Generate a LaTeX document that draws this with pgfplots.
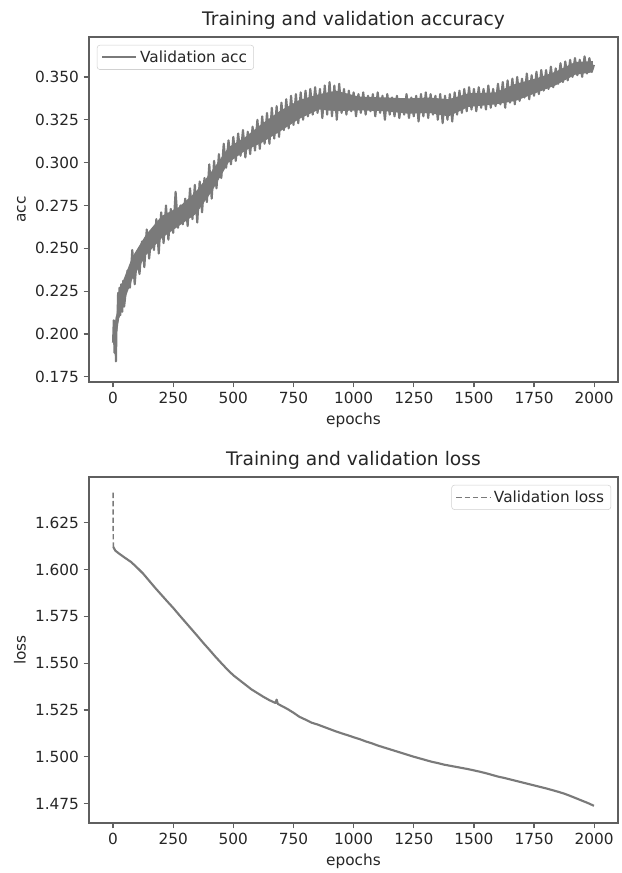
\documentclass[border=0pt]{standalone}
\usepackage{pgfplots}
\pgfplotsset{compat=1.18}
\usepackage{fontspec}
\setmainfont{DejaVu Sans}

\definecolor{curve}{RGB}{122,122,122}
\definecolor{spine}{RGB}{95,95,95}

\pgfplotsset{
  mpl/.style={
    scale only axis,
    width=396.75pt,
    xmin=-100, xmax=2099,
    xtick={0,250,500,750,1000,1250,1500,1750,2000},
    xtick pos=bottom, ytick pos=left,
    tick align=outside,
    major tick length=4pt,
    axis line style={spine, line width=0.9pt},
    tick style={spine, line width=0.9pt},
    tick label style={font=\fontsize{11.5}{13}\selectfont, text=black!85},
    /pgf/number format/assume math mode=true,
    /pgf/number format/1000 sep={},
    scaled y ticks=false,
    yticklabel style={/pgf/number format/.cd, fixed, fixed zerofill, precision=3},
    label style={font=\fontsize{11.5}{13}\selectfont, text=black!85},
    title style={font=\fontsize{14}{16}\selectfont, text=black!85, yshift=-4pt},
    xlabel={epochs},
    legend cell align=left,
    legend style={font=\fontsize{11.5}{13}\selectfont, text=black!85,
      draw=black!18, rounded corners=2pt, inner xsep=3pt, inner ysep=2pt},
    legend image code/.code={\draw[mark repeat=2,mark phase=2]
      plot coordinates {(0cm,0cm) (0.45cm,0cm) (0.9cm,0cm)};},
  },
}

\begin{document}
\begin{tikzpicture}
\path[use as bounding box] (-66.75pt,27.75pt) rectangle (399pt,-627pt);

% accuracy
\begin{axis}[
  mpl,
  at={(0,0)}, anchor=north west,
  height=258.75pt,
  ymin=0.172, ymax=0.3733,
  ytick={0.175,0.2,0.225,0.25,0.275,0.3,0.325,0.35},
  ylabel={acc},
  title={Training and validation accuracy},
  legend style={at={(0.015,0.977)}, anchor=north west},
]
% dense core of the noisy band (upper edge forward, lower edge back)
\addplot[fill=curve, draw=none, forget plot] coordinates {
(5,0.205) (15,0.212) (30,0.227) (80,0.245) (137,0.258) (203,0.269) (273,0.274)
(344,0.283) (410,0.295) (480,0.309) (550,0.315) (617,0.3225) (692,0.330) (774,0.3365)
(857,0.340) (927,0.342) (1023,0.3385) (1134,0.338) (1230,0.3375) (1313,0.338)
(1395,0.337) (1478,0.3405) (1590,0.341) (1673,0.346) (1756,0.349) (1838,0.353)
(1921,0.3587) (1995,0.3593)
(1995,0.3527) (1921,0.3513) (1838,0.345) (1756,0.3405) (1673,0.336) (1590,0.334)
(1478,0.3325) (1395,0.327) (1313,0.329) (1230,0.3285) (1134,0.330) (1023,0.3305)
(927,0.330) (857,0.331) (774,0.3255) (692,0.318) (617,0.3115) (550,0.307) (480,0.300)
(410,0.283) (344,0.270) (273,0.263) (203,0.256) (137,0.246) (80,0.232) (30,0.213)
(15,0.200) (5,0.190)
};
\addplot[curve, line width=1.6pt, line join=round] coordinates {
(0,0.195) (3,0.208) (6,0.189) (9,0.204) (12,0.184) (15,0.210) (18,0.207)
(21,0.224) (24,0.210) (27,0.227) (30,0.211) (34,0.229) (38,0.213) (42,0.231) (46,0.216)
(50,0.221) (60,0.237) (70,0.227) (80,0.249) (90,0.229) (100,0.246) (110,0.235)
(120,0.254) (130,0.239) (140,0.261) (150,0.244) (160,0.259) (170,0.249) (180,0.267)
(190,0.247) (200,0.271) (210,0.253) (220,0.275) (230,0.255) (240,0.273) (250,0.259)
(260,0.283) (270,0.262) (280,0.275) (290,0.264) (300,0.279) (310,0.263) (320,0.285)
(330,0.267) (340,0.287) (350,0.265) (360,0.289) (370,0.271) (380,0.291) (390,0.277)
(400,0.299) (410,0.279) (420,0.301) (430,0.285) (440,0.305) (450,0.291) (460,0.311)
(470,0.297) (480,0.313) (490,0.299) (500,0.315) (510,0.301) (520,0.317) (530,0.304)
(540,0.319) (550,0.303) (560,0.318) (570,0.305) (580,0.321) (590,0.307) (600,0.325)
(610,0.308) (620,0.327) (630,0.311) (640,0.329) (650,0.311) (660,0.332) (670,0.314)
(680,0.333) (690,0.315) (700,0.335) (710,0.319) (720,0.337) (730,0.320) (740,0.339)
(750,0.322) (760,0.340) (770,0.323) (780,0.341) (790,0.325) (800,0.342) (810,0.327)
(820,0.343) (830,0.328) (840,0.344) (850,0.329) (860,0.343) (870,0.326) (880,0.345)
(890,0.328) (900,0.347) (910,0.327) (920,0.345) (930,0.325) (940,0.346) (950,0.329)
(960,0.343) (970,0.328) (980,0.342) (990,0.330) (1000,0.341) (1010,0.327) (1020,0.340)
(1030,0.329) (1040,0.341) (1050,0.328) (1060,0.339) (1070,0.330) (1080,0.340) (1090,0.327)
(1100,0.341) (1110,0.329) (1120,0.339) (1130,0.325) (1140,0.340) (1150,0.328) (1160,0.338)
(1170,0.327) (1180,0.339) (1190,0.326) (1200,0.337) (1210,0.328) (1220,0.340) (1230,0.326)
(1240,0.338) (1250,0.327) (1260,0.339) (1270,0.324) (1280,0.340) (1290,0.327) (1300,0.341)
(1310,0.326) (1320,0.340) (1330,0.328) (1340,0.339) (1350,0.325) (1360,0.340) (1370,0.323)
(1380,0.339) (1390,0.325) (1400,0.340) (1410,0.324) (1420,0.341) (1430,0.328) (1440,0.342)
(1450,0.329) (1460,0.343) (1470,0.330) (1480,0.344) (1490,0.331) (1500,0.343) (1510,0.330)
(1520,0.344) (1530,0.332) (1540,0.343) (1550,0.331) (1560,0.345) (1570,0.332) (1580,0.343)
(1590,0.333) (1600,0.346) (1610,0.334) (1620,0.347) (1630,0.332) (1640,0.348) (1650,0.335)
(1660,0.349) (1670,0.334) (1680,0.350) (1690,0.336) (1700,0.349) (1710,0.338) (1720,0.352)
(1730,0.337) (1740,0.351) (1750,0.339) (1760,0.353) (1770,0.340) (1780,0.354) (1790,0.342)
(1800,0.354) (1810,0.343) (1820,0.356) (1830,0.344) (1840,0.355) (1850,0.346) (1860,0.358)
(1870,0.347) (1880,0.359) (1890,0.348) (1900,0.360) (1910,0.350) (1920,0.361) (1930,0.351)
(1940,0.360) (1950,0.350) (1960,0.362) (1970,0.352) (1980,0.361) (1990,0.353) (1999,0.357)
};
\addlegendentry{Validation acc}
\end{axis}

% loss
\begin{axis}[
  mpl,
  at={(0,-330pt)}, anchor=north west,
  height=259.5pt,
  ymin=1.4646, ymax=1.6494,
  ytick={1.475,1.5,1.525,1.55,1.575,1.6,1.625},
  ylabel={loss},
  title={Training and validation loss},
  legend style={at={(0.987,0.977)}, anchor=north east},
]
\addplot[curve, line width=1.1pt, dash pattern=on 4pt off 2.2pt] coordinates {
(0,1.641) (1,1.612)
};
\addlegendentry{Validation loss}
\addplot[curve, line width=1.6pt, line join=round, forget plot] coordinates {
(1,1.6120) (10,1.6100) (25,1.6085) (50,1.6062) (75,1.6040) (100,1.6010) (125,1.5978)
(150,1.5940) (175,1.5902) (200,1.5866) (225,1.5830) (250,1.5795) (275,1.5757)
(300,1.5720) (325,1.5683) (350,1.5646) (375,1.5608) (400,1.5572) (425,1.5535)
(450,1.5500) (475,1.5466) (500,1.5435) (525,1.5410) (550,1.5385) (575,1.5360)
(600,1.5340) (625,1.5320) (650,1.5302) (675,1.5287) (680,1.5305) (685,1.5282)
(700,1.5272) (725,1.5255) (750,1.5235) (775,1.5213) (800,1.5198) (825,1.5182)
(850,1.5172) (875,1.5160) (900,1.5148) (925,1.5136) (950,1.5125) (975,1.5115)
(1000,1.5104) (1025,1.5094) (1050,1.5082) (1075,1.5072) (1100,1.5060) (1125,1.5050)
(1150,1.5040) (1175,1.5030) (1200,1.5020) (1225,1.5010) (1250,1.5000) (1275,1.4991)
(1300,1.4982) (1325,1.4973) (1350,1.4966) (1375,1.4958) (1400,1.4952) (1425,1.4946)
(1450,1.4940) (1475,1.4934) (1500,1.4927) (1525,1.4920) (1550,1.4912) (1575,1.4903)
(1600,1.4894) (1625,1.4887) (1650,1.4879) (1675,1.4871) (1700,1.4863) (1725,1.4855)
(1750,1.4847) (1775,1.4839) (1800,1.4831) (1825,1.4822) (1850,1.4813) (1875,1.4803)
(1900,1.4791) (1925,1.4778) (1950,1.4765) (1975,1.4752) (1999,1.4738)
};
\end{axis}
\end{tikzpicture}
\end{document}
